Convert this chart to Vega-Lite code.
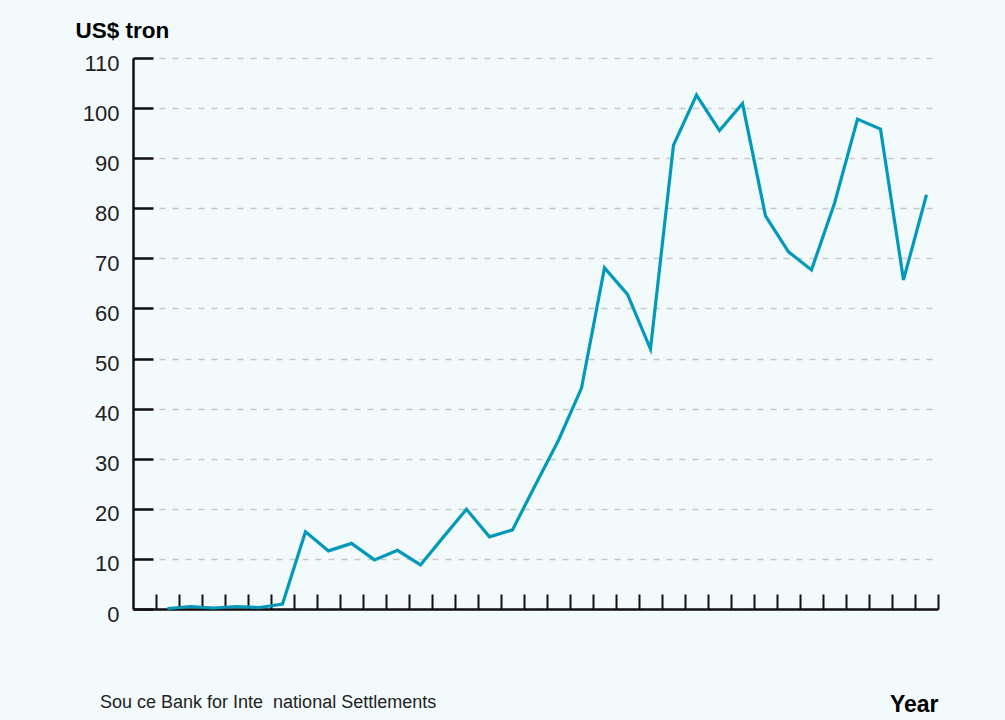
{
  "$schema": "https://vega.github.io/schema/vega-lite/v6.json",
  "autosize": {"type": "none"},
  "width": 805,
  "height": 551,
  "padding": {"left": 133, "top": 58, "right": 67, "bottom": 111},
  "background": "#F3FAFC",
  "config": {
    "font": "Liberation Sans",
    "view": {"stroke": null}
  },
  "title": {
    "text": "Sou ce Bank for Inte\u00a0 national Settlements",
    "orient": "bottom",
    "anchor": "start",
    "frame": "group",
    "dx": -33,
    "dy": -26,
    "fontSize": 18,
    "fontWeight": "normal",
    "color": "#222222",
    "font": "Liberation Sans"
  },
  "data": {
    "values": [
      {"year": "1988", "value": 0.1},
      {"year": "1989", "value": 0.5},
      {"year": "1990", "value": 0.2},
      {"year": "1991", "value": 0.5},
      {"year": "1992", "value": 0.3},
      {"year": "1993", "value": 1.0},
      {"year": "1994", "value": 15.4},
      {"year": "1995", "value": 11.6},
      {"year": "1996", "value": 13.1},
      {"year": "1997", "value": 9.8},
      {"year": "1998", "value": 11.7},
      {"year": "1999", "value": 8.8},
      {"year": "2000", "value": 14.4},
      {"year": "2001", "value": 19.9},
      {"year": "2002", "value": 14.4},
      {"year": "2003", "value": 15.8},
      {"year": "2004", "value": 24.8},
      {"year": "2005", "value": 33.7},
      {"year": "2006", "value": 44.1},
      {"year": "2007", "value": 68.1},
      {"year": "2008", "value": 62.8},
      {"year": "2009", "value": 51.9},
      {"year": "2010", "value": 92.6},
      {"year": "2011", "value": 102.6},
      {"year": "2012", "value": 95.5},
      {"year": "2013", "value": 100.9},
      {"year": "2014", "value": 78.5},
      {"year": "2015", "value": 71.3},
      {"year": "2016", "value": 67.7},
      {"year": "2017", "value": 81.0},
      {"year": "2018", "value": 97.8},
      {"year": "2019", "value": 95.8},
      {"year": "2020", "value": 65.7},
      {"year": "2021", "value": 82.7}
    ]
  },
  "mark": {"type": "line", "color": "#0399BA", "strokeWidth": 3.2, "strokeJoin": "miter"},
  "encoding": {
    "x": {
      "field": "year",
      "type": "ordinal",
      "bandPosition": 0.5,
      "scale": {
        "type": "band",
        "paddingInner": 0,
        "paddingOuter": 0,
        "domain": ["1987","1988","1989","1990","1991","1992","1993","1994","1995","1996","1997","1998","1999","2000","2001","2002","2003","2004","2005","2006","2007","2008","2009","2010","2011","2012","2013","2014","2015","2016","2017","2018","2019","2020","2021"]
      },
      "axis": {
        "title": "Year",
        "titleX": 805,
        "titleY": 102,
        "titleAlign": "right",
        "titleBaseline": "alphabetic",
        "titleAnchor": null,
        "titleFontSize": 23,
        "titleFontWeight": "bold",
        "titleColor": "#000000",
        "titleFont": "Liberation Sans",
        "labels": false,
        "bandPosition": 1,
        "tickSize": -15,
        "tickWidth": 2,
        "tickColor": "#111111",
        "domainColor": "#111111",
        "domainWidth": 2.5,
        "grid": false
      }
    },
    "y": {
      "field": "value",
      "type": "quantitative",
      "scale": {"domain": [0, 110], "nice": false},
      "axis": {
        "values": [0, 10, 20, 30, 40, 50, 60, 70, 80, 90, 100, 110],
        "title": "US$ tron",
        "titleAngle": 0,
        "titleX": -58,
        "titleY": -21,
        "titleAlign": "left",
        "titleBaseline": "alphabetic",
        "titleAnchor": null,
        "titleFontSize": 22.5,
        "titleFontWeight": "bold",
        "titleColor": "#000000",
        "titleFont": "Liberation Sans",
        "labelFontSize": 22,
        "labelColor": "#222222",
        "labelFont": "Liberation Sans",
        "labelPadding": 34,
        "labelOffset": 5,
        "tickSize": -20,
        "tickWidth": 2.5,
        "tickColor": "#111111",
        "domainColor": "#111111",
        "domainWidth": 2.5,
        "grid": true,
        "gridColor": "#C8C8C8",
        "gridWidth": 1.3,
        "gridDash": [6, 7]
      }
    }
  }
}
